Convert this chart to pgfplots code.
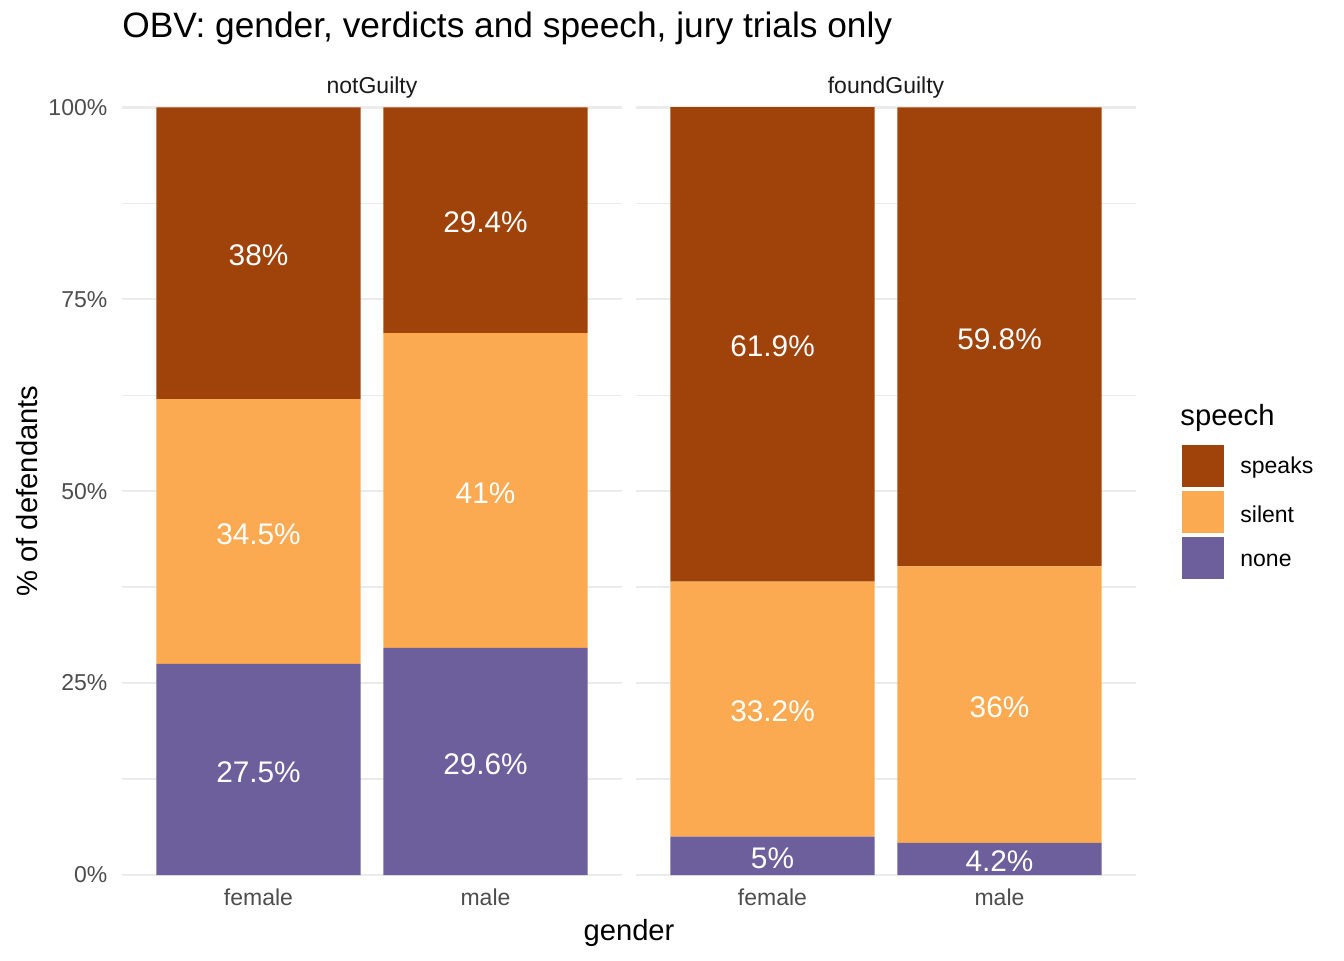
\documentclass[border=0pt]{standalone}
\usepackage{fontspec}
\setmainfont{Liberation Sans}
\usepackage{pgfplots}
\usepackage{pgfplotstable}
\pgfplotsset{compat=1.18}
\definecolor{speakc}{HTML}{A0430A}
\definecolor{silentc}{HTML}{FBAA52}
\definecolor{nonec}{HTML}{6C5F9C}
\definecolor{gridc}{HTML}{EBEBEB}
\definecolor{ticktxt}{HTML}{4D4D4D}
\definecolor{striptxt}{HTML}{1A1A1A}

\pgfplotstableread{
x none silent speaks
1 27.5 34.5 38.0
2 29.6 41.0 29.4
}\notguilty
\pgfplotstableread{
x none silent speaks
1 5.0 33.2 61.9
2 4.2 36.0 59.8
}\foundguilty
\pgfplotstableread{
x y lab
1 13.75 27.5
1 44.75 34.5
1 81.0 38
2 14.8 29.6
2 50.1 41
2 85.3 29.4
}\notguiltylab
\pgfplotstableread{
x y lab
1 2.5 5
1 21.6 33.2
1 69.15 61.9
2 2.1 4.2
2 22.2 36
2 70.1 59.8
}\foundguiltylab

\pgfplotsset{
  panel/.style={
    scale only axis, width=249.7pt, height=383.85pt,
    xmin=0.4, xmax=2.6, ymin=0, ymax=100,
    axis line style={draw=none},
    major tick length=0pt, minor tick length=0pt,
    ytick={0,25,50,75,100},
    minor ytick={12.5,37.5,62.5,87.5},
    ymajorgrids, yminorgrids,
    major grid style={gridc, line width=1.25pt},
    minor grid style={gridc, line width=0.65pt},
    xtick={1,2}, xticklabels={female,male},
    tick label style={font=\fontsize{11.5}{13}\selectfont, text=ticktxt, inner sep=0pt},
    xticklabel style={anchor=base, yshift=-15pt},
    yticklabel style={anchor=east, xshift=-7.3pt},
    ybar stacked, bar width=0.9,
    clip=true,
  },
  labpanel/.style={
    scale only axis, width=249.7pt, height=383.85pt,
    xmin=0.4, xmax=2.6, ymin=0, ymax=100,
    hide axis,
  },
  barlab/.style={draw=none, mark=none, point meta=explicit symbolic,
    nodes near coords={\pgfplotspointmeta\%},
    every node near coord/.append style={anchor=center, text=white, inner sep=0pt,
      yshift=-1.2pt, font=\fontsize{14.9}{16}\selectfont}},
}

\begin{document}
\begin{tikzpicture}
\path[use as bounding box] (0,0) rectangle (672pt,480pt);

% Panel 1: notGuilty
\begin{axis}[panel, at={(61.15pt,42.5pt)}, anchor=south west,
  yticklabels={0\%,25\%,50\%,75\%,100\%}]
\addplot[fill=nonec, draw=none] table[x=x,y=none]{\notguilty};
\addplot[fill=silentc, draw=none] table[x=x,y=silent]{\notguilty};
\addplot[fill=speakc, draw=none] table[x=x,y=speaks]{\notguilty};
\end{axis}
\begin{axis}[labpanel, at={(61.15pt,42.5pt)}, anchor=south west]
\addplot[barlab] table[x=x,y=y,meta=lab]{\notguiltylab};
\end{axis}

% Panel 2: foundGuilty
\begin{axis}[panel, at={(318.15pt,42.5pt)}, anchor=south west,
  yticklabels={}]
\addplot[fill=nonec, draw=none] table[x=x,y=none]{\foundguilty};
\addplot[fill=silentc, draw=none] table[x=x,y=silent]{\foundguilty};
\addplot[fill=speakc, draw=none] table[x=x,y=speaks]{\foundguilty};
\end{axis}
\begin{axis}[labpanel, at={(318.15pt,42.5pt)}, anchor=south west]
\addplot[barlab] table[x=x,y=y,meta=lab]{\foundguiltylab};
\end{axis}

% Title, strips, axis titles
\node[anchor=base west, inner sep=0pt, font=\fontsize{17.65}{20}\selectfont] at (61pt,461.15pt)
  {OBV: gender, verdicts and speech, jury trials only};
\node[anchor=base, inner sep=0pt, text=striptxt, font=\fontsize{11.5}{13}\selectfont] at (186pt,433.35pt) {notGuilty};
\node[anchor=base, inner sep=0pt, text=striptxt, font=\fontsize{11.5}{13}\selectfont] at (443pt,433.35pt) {foundGuilty};
\node[anchor=base, inner sep=0pt, font=\fontsize{14.6}{16}\selectfont] at (314.5pt,10pt) {gender};
\node[anchor=base, rotate=90, inner sep=0pt, font=\fontsize{14.6}{16}\selectfont] at (18.5pt,234.5pt) {\% of defendants};

% Legend
\node[anchor=base west, inner sep=0pt, font=\fontsize{14.6}{16}\selectfont] at (590pt,267pt) {speech};
\fill[speakc] (591pt,236.5pt) rectangle (612pt,257.5pt);
\fill[silentc] (591pt,213.5pt) rectangle (612pt,234.5pt);
\fill[nonec] (591pt,190.5pt) rectangle (612pt,211.5pt);
\node[anchor=west, inner sep=0pt, font=\fontsize{11.5}{13}\selectfont] at (620pt,246pt) {speaks};
\node[anchor=west, inner sep=0pt, font=\fontsize{11.5}{13}\selectfont] at (620pt,223pt) {silent};
\node[anchor=west, inner sep=0pt, font=\fontsize{11.5}{13}\selectfont] at (620pt,200pt) {none};
\end{tikzpicture}
\end{document}
